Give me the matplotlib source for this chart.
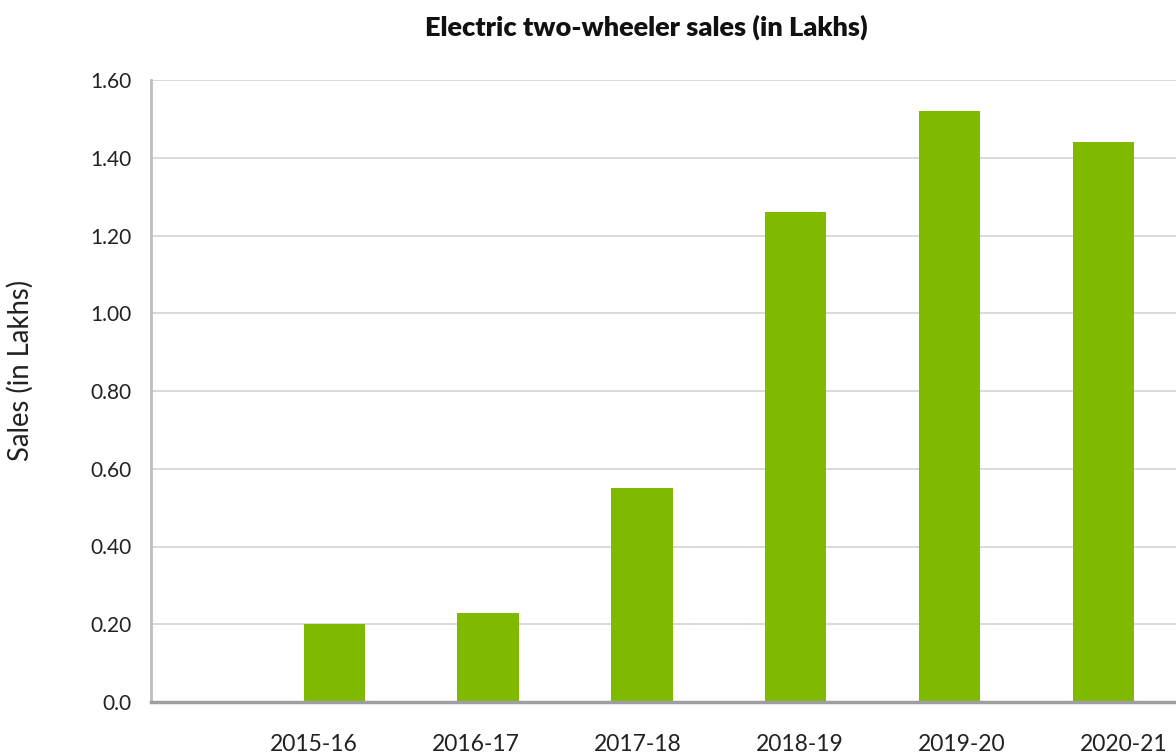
import matplotlib
matplotlib.use("Agg")
import matplotlib.pyplot as plt
import numpy as np

plt.rcParams['font.family'] = ['Lato', 'DejaVu Sans']

years = ["2015-16", "2016-17", "2017-18", "2018-19", "2019-20", "2020-21"]
sales = [0.20, 0.23, 0.55, 1.26, 1.52, 1.44]
y_ticks = [0.0, 0.2, 0.4, 0.6, 0.8, 1.0, 1.2, 1.4, 1.6]
y_tick_labels = ["0.0", "0.20", "0.40", "0.60", "0.80", "1.00", "1.20", "1.40", "1.60"]

W, H = 1176, 756
fig = plt.figure(figsize=(W / 100, H / 100), dpi=100)
ax = fig.add_axes([151 / W, 1 - 702 / H, (W - 151) / W, (702 - 80) / H])

x = np.arange(len(years))
ax.bar(x, sales, width=0.4, color="#7fba00", zorder=3)

ax.set_xlim(-1.193, 5.473)
ax.set_ylim(0, 1.6)

ax.set_yticks(y_ticks)
ax.set_yticklabels(y_tick_labels)
ax.yaxis.grid(True, color="#d9d9d9", linewidth=1.4, zorder=0)
ax.set_axisbelow(True)

# category labels sit on a slightly wider pitch than the bars
label_pos = -0.133 + 1.0537 * x
ax.set_xticks(label_pos)
ax.set_xticklabels(years)

ax.tick_params(axis="both", length=0, colors="#222222")
ax.tick_params(axis="y", pad=14, labelsize=15)
ax.tick_params(axis="x", pad=23, labelsize=16.5)

for s in ["top", "right"]:
    ax.spines[s].set_visible(False)
ax.spines["left"].set_color("#bdbdbd")
ax.spines["left"].set_linewidth(2)
ax.spines["bottom"].set_color("#9e9e9e")
ax.spines["bottom"].set_linewidth(2.5)
ax.spines["bottom"].set_zorder(4)

ax.set_ylabel("Sales (in Lakhs)", fontsize=19.8, color="#222222")
ax.yaxis.set_label_coords(-(151 - 34) / (W - 151), (702 - 370) / (702 - 80))

fig.text(646 / W, 1 - 27 / H, "Electric two-wheeler sales (in Lakhs)",
         ha="center", va="center", fontsize=19.5, fontweight="heavy", color="#111111")

fig.savefig("out.png", dpi=100, facecolor="white")
